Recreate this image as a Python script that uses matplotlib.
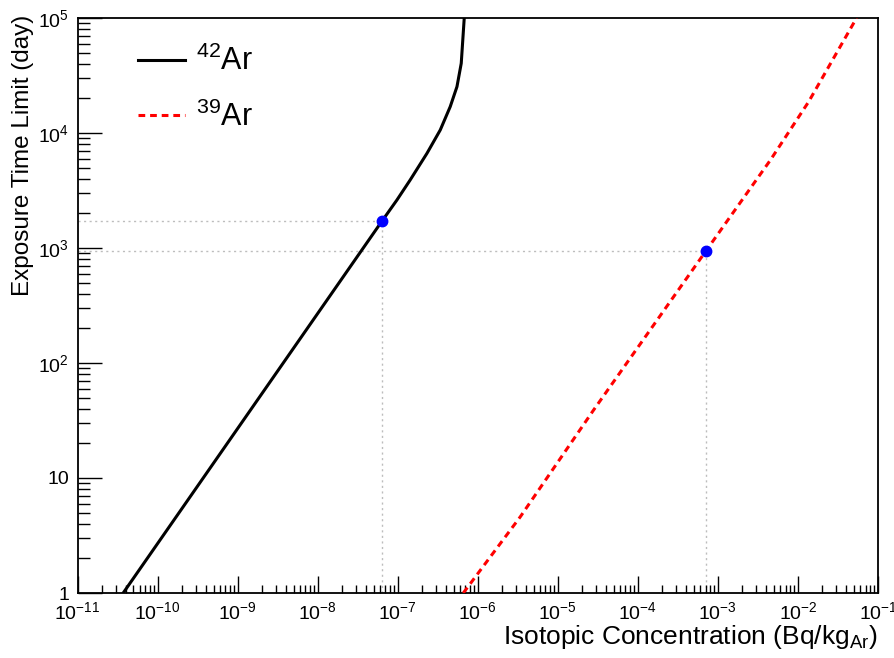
import matplotlib
matplotlib.use("Agg")
import matplotlib.pyplot as plt
import numpy as np
from matplotlib.ticker import LogLocator, FixedLocator, FixedFormatter, NullFormatter

# 42Ar exposure time limit curve (concentration in Bq/kg_Ar, time in days)
conc_42 = [3.72e-11, 6.34e-8, 9.77e-8, 1.43e-7, 2.32e-7, 3.40e-7, 4.53e-7, 5.50e-7, 6.22e-7, 6.78e-7]
time_42 = [1.0, 1708, 2612, 3899, 6653, 10617, 16940, 25290, 40360, 1.0e5]

# 39Ar exposure time limit curve
conc_39 = [6.6e-7, 3.40e-6, 2.80e-5, 7.13e-4, 4.53e-3, 1.36e-2, 5.4e-2]
time_39 = [1.0, 4.6, 39.0, 948, 5821, 18700, 1.0e5]

# marked working points
point_42 = (6.3e-8, 1.7e3)
point_39 = (7.1e-4, 9.5e2)

x_ticks = [1e-11, 1e-10, 1e-9, 1e-8, 1e-7, 1e-6, 1e-5, 1e-4, 1e-3, 1e-2, 1e-1]
x_ticklabels = [r"$10^{-11}$", r"$10^{-10}$", r"$10^{-9}$", r"$10^{-8}$", r"$10^{-7}$", r"$10^{-6}$",
                r"$10^{-5}$", r"$10^{-4}$", r"$10^{-3}$", r"$10^{-2}$", r"$10^{-1}$"]
y_ticks = [1, 10, 1e2, 1e3, 1e4, 1e5]
y_ticklabels = ["1", "10", r"$10^{2}$", r"$10^{3}$", r"$10^{4}$", r"$10^{5}$"]

plt.rcParams["font.family"] = ["Liberation Sans", "DejaVu Sans"]
plt.rcParams["mathtext.fontset"] = "custom"
plt.rcParams["mathtext.rm"] = "Liberation Sans"
plt.rcParams["mathtext.it"] = "Liberation Sans:italic"
plt.rcParams["mathtext.bf"] = "Liberation Sans:bold"
plt.rcParams["mathtext.default"] = "regular"

fig = plt.figure(figsize=(8.95, 6.58), dpi=100)
ax = fig.add_axes([77.5 / 895, 1 - 593 / 658, 800.5 / 895, 575 / 658])
ax.set_xscale("log")
ax.set_yscale("log")
ax.set_xlim(1e-11, 1e-1)
ax.set_ylim(1, 1e5)

# dotted guide lines to the working points
guide = dict(color="#bdbdbd", lw=1.0, ls=(0, (1.5, 2.5)), zorder=1)
for px, py in (point_42, point_39):
    ax.plot([1e-11, px], [py, py], **guide)
    ax.plot([px, px], [1, py], **guide)

ax.plot(conc_42, time_42, color="black", lw=2.2, label=r"$^{42}$Ar", zorder=3)
ax.plot(conc_39, time_39, color="red", lw=2.2, ls=(0, (2.2, 1.6)), label=r"$^{39}$Ar", zorder=3)
ax.plot([point_42[0], point_39[0]], [point_42[1], point_39[1]], "o", color="blue", ms=7.5, zorder=4)

ax.xaxis.set_major_locator(FixedLocator(x_ticks))
ax.xaxis.set_major_formatter(FixedFormatter(x_ticklabels))
ax.xaxis.set_minor_locator(LogLocator(base=10, subs=np.arange(2, 10), numticks=100))
ax.xaxis.set_minor_formatter(NullFormatter())
ax.yaxis.set_major_locator(FixedLocator(y_ticks))
ax.yaxis.set_major_formatter(FixedFormatter(y_ticklabels))
ax.yaxis.set_minor_locator(LogLocator(base=10, subs=np.arange(2, 10), numticks=100))
ax.yaxis.set_minor_formatter(NullFormatter())

ax.tick_params(axis="x", which="major", direction="in", length=12.2, width=1.0, labelsize=14, pad=6)
ax.tick_params(axis="x", which="minor", direction="in", length=5.8, width=1.0)
ax.tick_params(axis="y", which="major", direction="in", length=17.3, width=1.0, labelsize=14, pad=6)
ax.tick_params(axis="y", which="minor", direction="in", length=8.6, width=1.0)
ax.tick_params(top=False, right=False, which="both")
for sp in ax.spines.values():
    sp.set_linewidth(1.3)

ax.set_xlabel(r"Isotopic Concentration (Bq/kg$_{Ar}$)", fontsize=19, loc="right")
ax.xaxis.set_label_coords(1.0, -0.052)
ax.set_ylabel("Exposure Time Limit (day)", fontsize=17.5, loc="top")
ax.yaxis.set_label_coords(-0.054, 1.005)

ax.legend(loc="upper left", bbox_to_anchor=(0.0754, 0.951), frameon=False, fontsize=22,
          handlelength=1.55, handletextpad=0.35, labelspacing=0.78, borderpad=0, borderaxespad=0)

fig.savefig("out.png", dpi=100)
